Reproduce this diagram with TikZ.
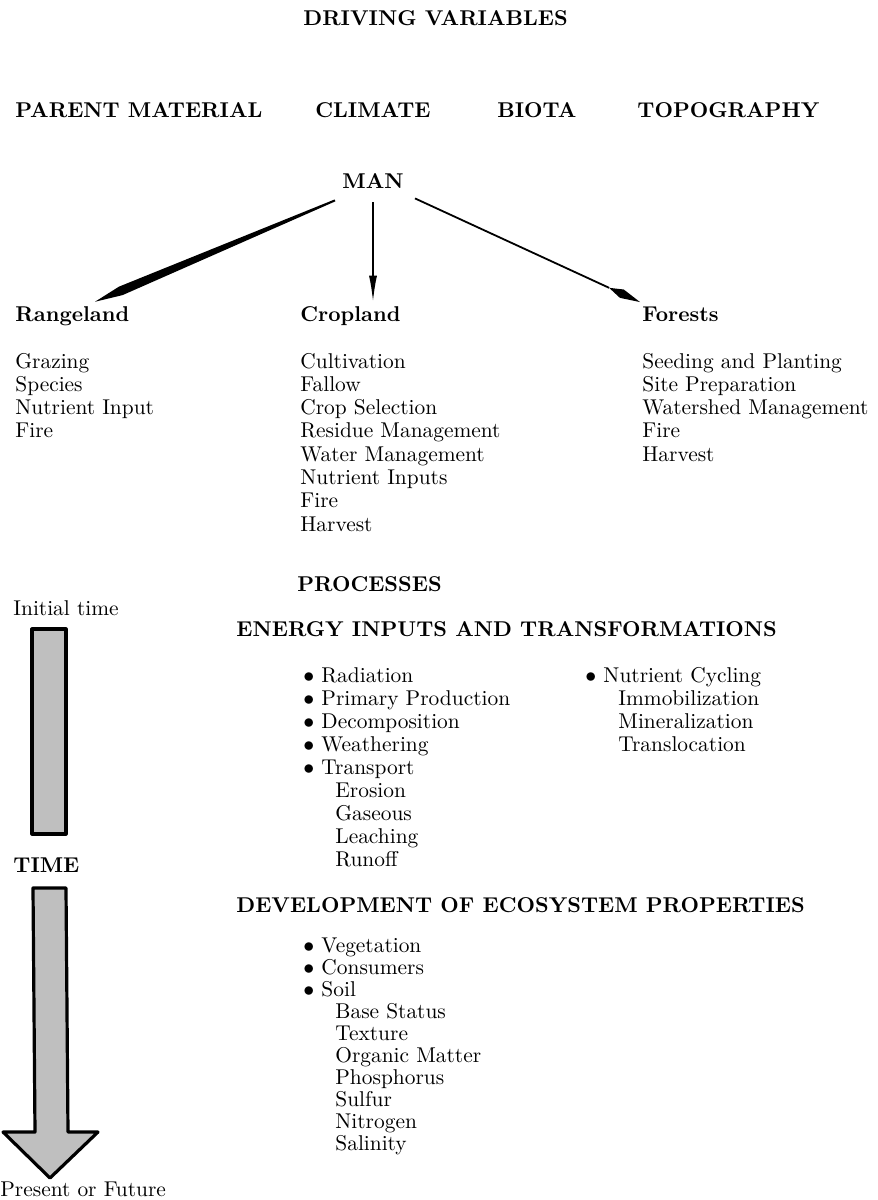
\documentclass[tikz,border=0pt]{standalone}
\usetikzlibrary{arrows.meta,calc}
\newcommand{\fbody}{\fontsize{10.7}{11.65}\selectfont}
\newcommand{\fhead}{\fontsize{10.7}{11.65}\selectfont\bfseries}
\begin{document}
\begin{tikzpicture}[x=0.5pt, y=-0.5pt,
    >=Latex,
    txt/.style={anchor=base west, inner sep=0pt, font=\fbody},
    hd/.style={anchor=base west, inner sep=0pt, font=\fhead},
    timebar/.style={draw, line width=1.6pt, fill=black!25, line join=round}]
  % Bildbereich
  \useasboundingbox (0,0) rectangle (878,1200);
  % Einflussgroessen
  \node[hd] (drive) at (303,25) {DRIVING VARIABLES};
  \node[hd] (parent) at (15,117) {PARENT MATERIAL};
  \node[hd] (climate) at (315,117) {CLIMATE};
  \node[hd] (biota) at (497,117) {BIOTA};
  \node[hd] (topo) at (637,117) {TOPOGRAPHY};
  \node[hd, anchor=base] (man) at (373,188) {MAN};
  % Landnutzung
  \node[hd] (range) at (15,321) {Rangeland};
  \node[hd] (crop) at (300,321) {Cropland};
  \node[hd] (forest) at (642,321) {Forests};
  \foreach \lbl [count=\i] in {Grazing, Species, Nutrient Input, Fire}
    \node[txt] (range\i) at (15,{368+23.3*(\i-1)}) {\lbl};
  \foreach \lbl [count=\i] in {Cultivation, Fallow, Crop Selection, Residue Management,
      Water Management, Nutrient Inputs, Fire, Harvest}
    \node[txt] (crop\i) at (300,{368+23.3*(\i-1)}) {\lbl};
  \foreach \lbl [count=\i] in {Seeding and Planting, Site Preparation,
      Watershed Management, Fire, Harvest}
    \node[txt] (forest\i) at (642,{368+23.3*(\i-1)}) {\lbl};
  % Pfeile von MAN
  \coordinate (rangeS) at ($(man.south)+(-38,12)$);
  \coordinate (rangeE) at ($(range.north west)+(80,-4)$);
  \coordinate (rangeW) at ($(rangeE)!14pt!(rangeS)$);
  \fill ($(rangeS)!0.5pt!90:(rangeE)$) -- ($(rangeW)!2.3pt!90:(rangeE)$) -- (rangeE)
    -- ($(rangeW)!2.3pt!-90:(rangeE)$) -- ($(rangeS)!0.5pt!-90:(rangeE)$) -- cycle;
  \coordinate (cropS) at ($(man.south)+(0,14)$);
  \coordinate (cropE) at ($(crop.north west)+(73,-4)$);
  \draw[line width=0.8pt, -{Latex[length=13pt,width=4pt]}] (cropS) -- (cropE);
  \coordinate (forestS) at ($(man.south)+(42,10)$);
  \coordinate (forestE) at ($(forest.north west)+(-2,-4)$);
  \coordinate (forestB) at ($(forestE)!17pt!(forestS)$);
  \coordinate (forestW) at ($(forestE)!10pt!(forestS)$);
  \draw[line width=0.9pt] (forestS) -- (forestB);
  \fill (forestB) -- ($(forestW)!2.3pt!90:(forestE)$) -- (forestE)
    -- ($(forestW)!2.3pt!-90:(forestE)$) -- cycle;
  % Prozesse
  \node[hd] (proc) at (297,591) {PROCESSES};
  \node[txt] (tinit) at (13,615) {Initial time};
  \node[hd] (energy) at (236,636) {ENERGY INPUTS AND TRANSFORMATIONS};
  \foreach \lbl [count=\i] in {Radiation, Primary Production, Decomposition,
      Weathering, Transport}
    \node[txt] (en\i) at (303,{682+23*(\i-1)}) {$\bullet$ \lbl};
  \foreach \lbl [count=\i] in {Erosion, Gaseous, Leaching, Runoff}
    \node[txt] (trans\i) at (335,{797+23*(\i-1)}) {\lbl};
  \node[txt] (nut) at (585,682) {$\bullet$ Nutrient Cycling};
  \foreach \lbl [count=\i] in {Immobilization, Mineralization, Translocation}
    \node[txt] (nut\i) at (618,{705+23*(\i-1)}) {\lbl};
  % Zeitachse
  \draw[timebar] (32,629) rectangle (66,834);
  \node[hd] (time) at (13,872) {TIME};
  \draw[timebar] (33,888) -- (66,888) -- (68,1132) -- (98,1132) -- (50,1178)
    -- (3,1132) -- (35,1132) -- cycle;
  \node[txt] (tnow) at (0,1196) {Present or Future};
  % Oekosystem
  \node[hd] (devel) at (236,912) {DEVELOPMENT OF ECOSYSTEM PROPERTIES};
  \foreach \lbl [count=\i] in {Vegetation, Consumers, Soil}
    \node[txt] (eco\i) at (303,{952+22*(\i-1)}) {$\bullet$ \lbl};
  \foreach \lbl [count=\i] in {Base Status, Texture, Organic Matter, Phosphorus,
      Sulfur, Nitrogen, Salinity}
    \node[txt] (soil\i) at (335,{1018+22*(\i-1)}) {\lbl};
\end{tikzpicture}
\end{document}
